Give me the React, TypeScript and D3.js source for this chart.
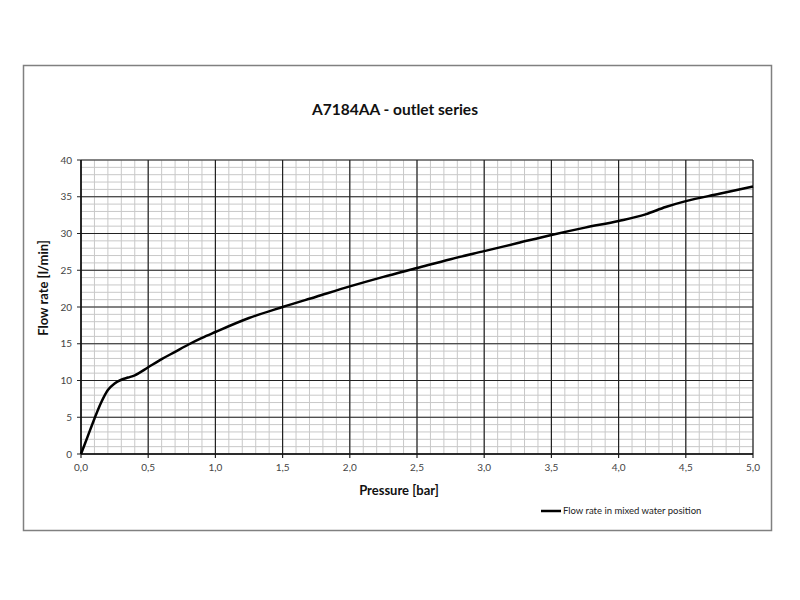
import React from "react";
import * as d3 from "d3";

const pressure = [0, 0.05, 0.1, 0.15, 0.2, 0.25, 0.3, 0.35, 0.4, 0.5, 0.6, 0.7, 0.8, 0.9, 1.0, 1.25, 1.5, 1.75, 2.0, 2.25, 2.5, 2.75, 3.0, 3.25, 3.5, 3.75, 4.0, 4.2, 4.35, 4.5, 4.75, 5.0];
const flow = [0, 2.4, 4.8, 7.0, 8.7, 9.6, 10.1, 10.4, 10.7, 11.8, 12.9, 13.9, 14.9, 15.8, 16.6, 18.5, 20.0, 21.4, 22.8, 24.1, 25.3, 26.5, 27.6, 28.7, 29.8, 30.8, 31.7, 32.6, 33.6, 34.4, 35.4, 36.4];
const xTicks = [0, 0.5, 1.0, 1.5, 2.0, 2.5, 3.0, 3.5, 4.0, 4.5, 5.0];
const yTicks = [0, 5, 10, 15, 20, 25, 30, 35, 40];
const title = "A7184AA - outlet series";
const xTitle = "Pressure [bar]";
const yTitle = "Flow rate [l/min]";
const legendLabel = "Flow rate in mixed water position";

export default function App() {
  const W = 800, H = 600;
  const left = 81, right = 753, top = 160, bottom = 454;
  const x = d3.scaleLinear().domain([0, 5]).range([left, right]);
  const y = d3.scaleLinear().domain([0, 40]).range([bottom, top]);
  const minorX = d3.range(0, 51).map((i) => i / 10);
  const minorY = d3.range(0, 41);
  const pts = pressure.map((p, i) => [p, flow[i]] as [number, number]);
  const line = d3
    .line<[number, number]>()
    .x((d) => x(d[0]))
    .y((d) => y(d[1]))
    .curve(d3.curveMonotoneX);
  const font = "Lato, 'Open Sans', sans-serif";
  const fmt = (v: number) => v.toFixed(1).replace(".", ",");
  return (
    <svg width={W} height={H} style={{ position: "absolute", left: 0, top: 0 }} fontFamily={font}>
      <rect x={0} y={0} width={W} height={H} fill="#fff" />
      <rect x={23.5} y={65.5} width={748} height={465} fill="#fff" stroke="#808080" strokeWidth={1.5} />
      <text x={395} y={115} textAnchor="middle" fontSize={15.5} fontWeight="bold" fill="#111">{title}</text>
      {minorX.map((v) => (
        <line key={"mx" + v} x1={x(v)} x2={x(v)} y1={top} y2={bottom} stroke="#c8c8c8" strokeWidth={1} />
      ))}
      {minorY.map((v) => (
        <line key={"my" + v} x1={left} x2={right} y1={y(v)} y2={y(v)} stroke="#c8c8c8" strokeWidth={1} />
      ))}
      {xTicks.map((v) => (
        <line key={"Mx" + v} x1={x(v)} x2={x(v)} y1={top} y2={bottom + 4} stroke="#222" strokeWidth={1.2} />
      ))}
      {yTicks.map((v) => (
        <line key={"My" + v} x1={left - 4} x2={right} y1={y(v)} y2={y(v)} stroke="#222" strokeWidth={1.2} />
      ))}
      <line x1={left} x2={left} y1={top} y2={bottom} stroke="#111" strokeWidth={1.5} />
      <line x1={left} x2={right} y1={bottom} y2={bottom} stroke="#111" strokeWidth={1.5} />
      {xTicks.map((v) => (
        <text key={"tx" + v} x={x(v)} y={bottom + 17} textAnchor="middle" fontSize={10} fill="#444">{fmt(v)}</text>
      ))}
      {yTicks.map((v) => (
        <text key={"ty" + v} x={left - 9} y={y(v) + 3.5} textAnchor="end" fontSize={10} fill="#444">{v}</text>
      ))}
      <path d={line(pts) || ""} fill="none" stroke="#000" strokeWidth={2.5} strokeLinejoin="round" />
      <text x={399} y={495} textAnchor="middle" fontSize={13} fontWeight="bold" fill="#111">{xTitle}</text>
      <text transform={`translate(48,288) rotate(-90)`} textAnchor="middle" fontSize={13} fontWeight="bold" fill="#111">{yTitle}</text>
      <line x1={541} x2={561} y1={511} y2={511} stroke="#000" strokeWidth={2.5} />
      <text x={563} y={514} fontSize={9.5} fill="#222">{legendLabel}</text>
    </svg>
  );
}
